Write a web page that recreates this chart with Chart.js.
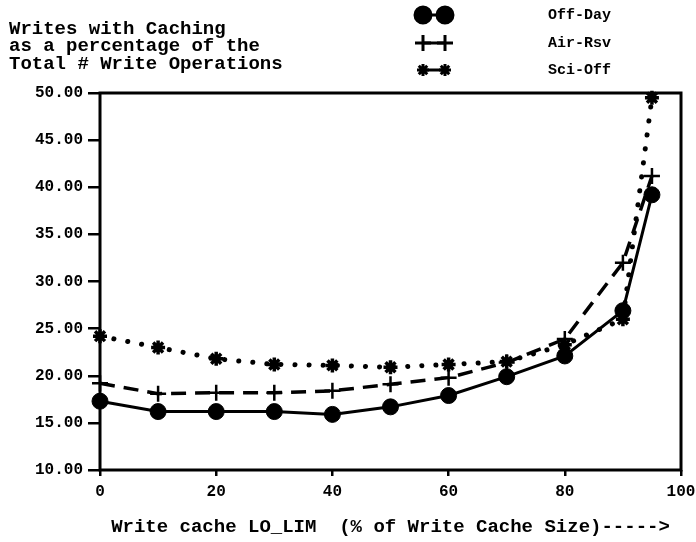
<!DOCTYPE html>
<html>
<head>
<meta charset="utf-8">
<script src="https://cdn.jsdelivr.net/npm/chart.js@4"></script>
<style>
  body { margin: 0; background: #fff; }
  #wrap { width: 696px; height: 542px; }
</style>
</head>
<body>
<div id="wrap"><canvas id="cacheChart" width="696" height="542"></canvas></div>
<script>
// LO_LIM values (% of write cache size)
const loLim = [0, 10, 20, 30, 40, 50, 60, 70, 80, 90, 95];
const offDay = [17.3, 16.2, 16.2, 16.2, 15.9, 16.7, 17.9, 19.9, 22.1, 26.9, 39.2];
const airRsv = [19.2, 18.1, 18.2, 18.2, 18.4, 19.1, 19.8, 21.4, 23.9, 32.0, 41.2];
const sciOff = [24.2, 23.0, 21.8, 21.2, 21.1, 20.9, 21.2, 21.5, 23.3, 26.0, 49.5];
const titleLines = ['Writes with Caching', 'as a percentage of the', 'Total # Write Operations'];
const xTitle = 'Write cache LO_LIM  (% of Write Cache Size)----->';

const FONT = '"Liberation Mono", "Courier New", monospace';

function pts(vals) {
    return loLim.map((x, i) => ({ x: x, y: vals[i] }));
}

// box round the plot + title block + legend at top right
const framePlugin = {
    id: 'frame',
    afterDraw(chart) {
        const c = chart.ctx;
        const a = chart.chartArea;
        c.save();
        c.strokeStyle = '#000';
        c.lineWidth = 3;
        c.strokeRect(a.left, a.top, a.right - a.left, a.bottom - a.top);

        c.fillStyle = '#000';
        c.font = 'bold 19px ' + FONT;
        c.textBaseline = 'middle';
        c.textAlign = 'left';
        titleLines.forEach((t, i) => c.fillText(t, 9, 29 + i * 17.5));

        const rows = [15, 43, 70];
        const legendSize = [8, 8, 6];
        chart.data.datasets.forEach((ds, i) => {
            const y = rows[i];
            c.strokeStyle = '#000';
            c.fillStyle = '#000';
            c.lineWidth = 3;
            c.beginPath();
            c.moveTo(423, y);
            c.lineTo(445, y);
            c.stroke();
            [423, 445].forEach(x => {
                Chart.helpers.drawPoint(c, {
                    pointStyle: ds.pointStyle,
                    radius: legendSize[i],
                    borderWidth: ds.pointBorderWidth
                }, x, y);
            });
            c.font = 'bold 15px ' + FONT;
            c.fillText(ds.label, 548, y);
        });
        c.restore();
    }
};

const ctx = document.getElementById('cacheChart').getContext('2d');
const cacheChart = new Chart(ctx, {
    type: 'line',
    data: {
        datasets: [{
            label: 'Off-Day',
            data: pts(offDay),
            borderColor: '#000',
            backgroundColor: '#000',
            borderWidth: 3,
            pointStyle: 'circle',
            pointRadius: 8,
            pointBorderWidth: 1,
            clip: false
        }, {
            label: 'Air-Rsv',
            data: pts(airRsv),
            borderColor: '#000',
            backgroundColor: '#000',
            borderWidth: 3.5,
            borderDash: [15, 9],
            pointStyle: 'cross',
            pointRadius: 8,
            pointBorderWidth: 2.5,
            clip: false
        }, {
            label: 'Sci-Off',
            data: pts(sciOff),
            borderColor: '#000',
            backgroundColor: '#000',
            borderWidth: 5,
            borderDash: [0.1, 14],
            borderCapStyle: 'round',
            pointStyle: 'star',
            pointRadius: 7,
            pointBorderWidth: 3.5,
            clip: false
        }]
    },
    options: {
        responsive: false,
        animation: false,
        tension: 0,
        layout: { padding: { top: 93, right: 15, left: 0, bottom: 0 } },
        plugins: {
            legend: { display: false },
            tooltip: { enabled: false }
        },
        scales: {
            x: {
                type: 'linear',
                min: 0,
                max: 100,
                ticks: {
                    stepSize: 20,
                    color: '#000',
                    padding: 6,
                    maxRotation: 0,
                    font: { family: FONT, size: 16, weight: 'bold' }
                },
                grid: { drawOnChartArea: false, color: '#000', lineWidth: 2.5, tickLength: 6 },
                border: { display: false },
                title: {
                    display: true,
                    text: xTitle,
                    color: '#000',
                    padding: { top: 0, bottom: 3 },
                    font: { family: FONT, size: 19, weight: 'bold' }
                },
                afterFit(scale) {
                    scale.height = 72;
                    scale.paddingLeft = 0;
                    scale.paddingRight = 0;
                }
            },
            y: {
                min: 10,
                max: 50,
                ticks: {
                    stepSize: 5,
                    color: '#000',
                    padding: 5,
                    callback: v => v.toFixed(2),
                    font: { family: FONT, size: 16, weight: 'bold' }
                },
                grid: { drawOnChartArea: false, color: '#000', lineWidth: 2.5, tickLength: 12 },
                border: { display: false },
                afterFit(scale) { scale.width = 100; }
            }
        }
    },
    plugins: [framePlugin]
});
</script>
</body>
</html>
